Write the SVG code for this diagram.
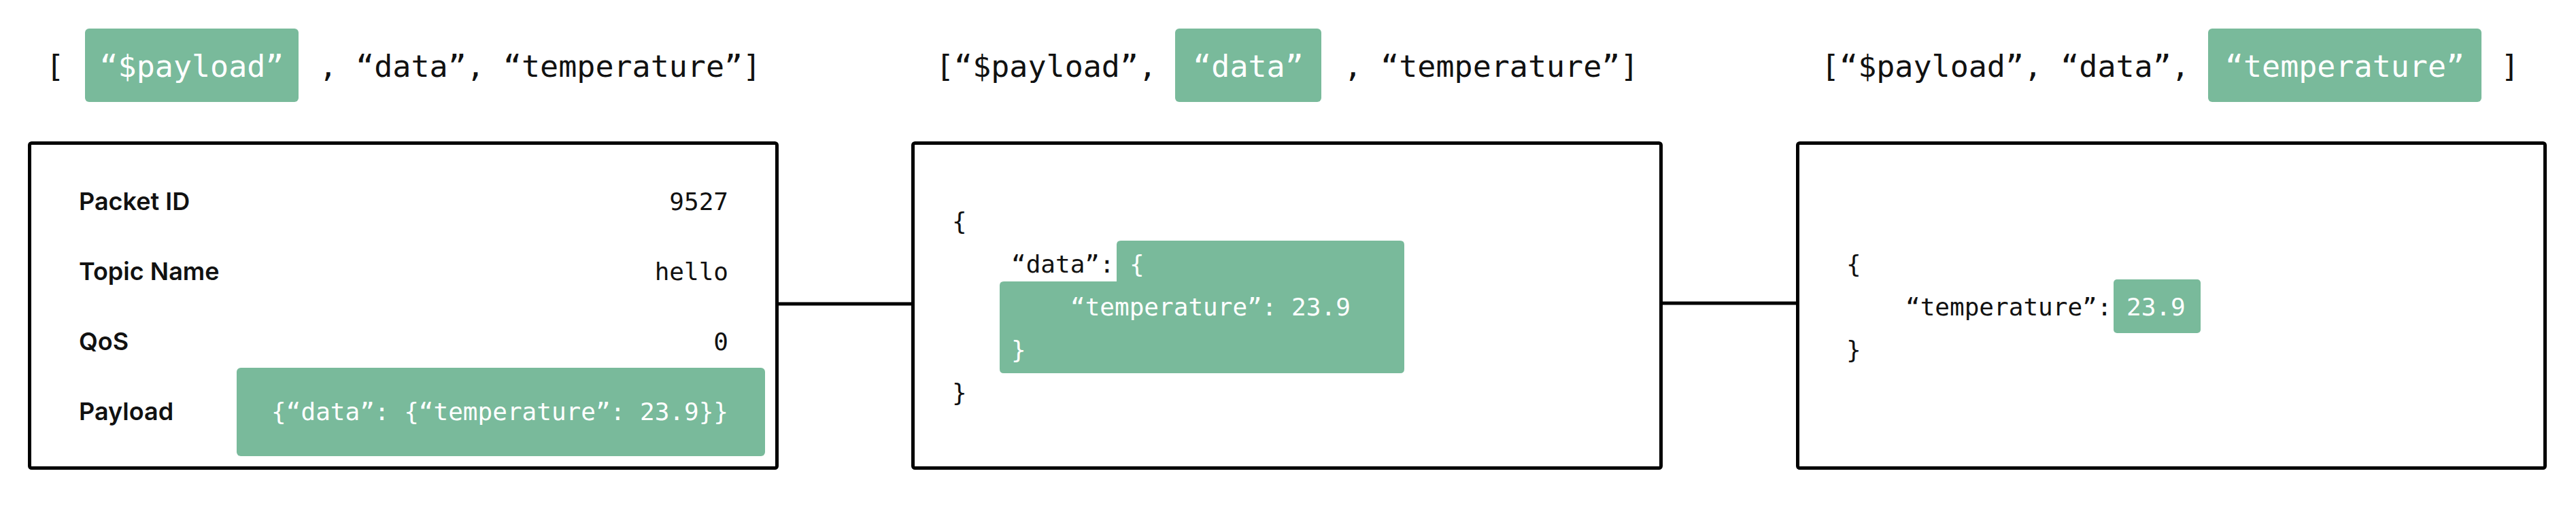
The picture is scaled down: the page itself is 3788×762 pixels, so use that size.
<svg xmlns="http://www.w3.org/2000/svg" width="3788" height="762" viewBox="0 0 3788 762">
<style>
.mono{font-family:"DejaVu Sans Mono","Liberation Mono",monospace;fill:#111}
.top{font-size:45px}
.code{font-size:36px}
.w{fill:#ffffff}
.lbl{font-family:Inter,"Liberation Sans",sans-serif;font-weight:600;font-size:36px;fill:#111}
.hl{fill:#79BA9B}
.box{fill:#ffffff;stroke:#000;stroke-width:5}
.conn{stroke:#000;stroke-width:5;fill:none}
</style>
<rect width="3788" height="762" fill="#ffffff"/>
<g id="connectors">
<line class="conn" x1="1145" y1="447" x2="1340" y2="447"/>
<line class="conn" x1="2445" y1="446" x2="2641" y2="446"/>
</g>
<g id="path1">
<text class="mono top" x="81" y="113" text-anchor="middle">[</text>
<rect class="hl" x="125" y="42" width="314" height="108" rx="6"/>
<text class="mono top w" x="282" y="113" text-anchor="middle">“$payload”</text>
<text class="mono top" x="469" y="113" xml:space="preserve">, “data”, “temperature”]</text>
</g>
<g id="path2">
<text class="mono top" x="1376" y="113" xml:space="preserve">[“$payload”,</text>
<rect class="hl" x="1728" y="42" width="215" height="108" rx="6"/>
<text class="mono top w" x="1835.5" y="113" text-anchor="middle">“data”</text>
<text class="mono top" x="1976" y="113" xml:space="preserve">, “temperature”]</text>
</g>
<g id="path3">
<text class="mono top" x="2678" y="113" xml:space="preserve">[“$payload”, “data”,</text>
<rect class="hl" x="3247" y="42" width="402" height="108" rx="6"/>
<text class="mono top w" x="3448" y="113" text-anchor="middle">“temperature”</text>
<text class="mono top" x="3691" y="113" text-anchor="middle">]</text>
</g>
<g id="packet">
<rect class="box" x="43.5" y="210.5" width="1099" height="478" rx="3"/>
<text class="lbl" x="116" y="309">Packet ID</text>
<text class="lbl" x="116" y="412">Topic Name</text>
<text class="lbl" x="116" y="515">QoS</text>
<text class="lbl" x="116" y="618">Payload</text>
<text class="mono code" x="1071" y="309" text-anchor="end">9527</text>
<text class="mono code" x="1071" y="412" text-anchor="end">hello</text>
<text class="mono code" x="1071" y="515" text-anchor="end">0</text>
<rect class="hl" x="348" y="541" width="777" height="130" rx="6"/>
<text class="mono code w" x="1071" y="618" text-anchor="end">{“data”: {“temperature”: 23.9}}</text>
</g>
<g id="payload">
<rect class="box" x="1342.5" y="210.5" width="1100" height="478" rx="3"/>
<path class="hl" d="M1648,354 H2059 Q2065,354 2065,360 V543 Q2065,549 2059,549 H1476 Q1470,549 1470,543 V420 Q1470,414 1476,414 H1642 V360 Q1642,354 1648,354 Z"/>
<text class="mono code" x="1400" y="338">{</text>
<text class="mono code" x="1487" y="401">“data”:</text>
<text class="mono code w" x="1661" y="401">{</text>
<text class="mono code w" x="1574" y="464">“temperature”: 23.9</text>
<text class="mono code w" x="1487" y="527">}</text>
<text class="mono code" x="1400" y="590">}</text>
</g>
<g id="data">
<rect class="box" x="2643.5" y="210.5" width="1099" height="478" rx="3"/>
<text class="mono code" x="2715" y="401">{</text>
<text class="mono code" x="2802" y="464">“temperature”:</text>
<rect class="hl" x="3108" y="411" width="128" height="79" rx="5"/>
<text class="mono code w" x="3127" y="464">23.9</text>
<text class="mono code" x="2715" y="527">}</text>
</g>
</svg>
